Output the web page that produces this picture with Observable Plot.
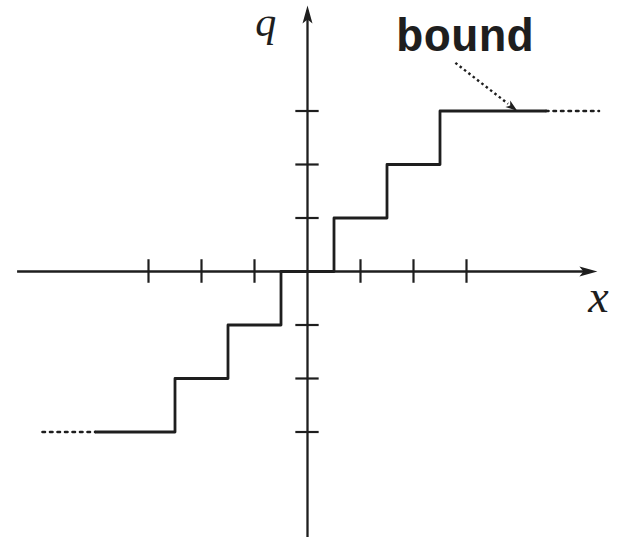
<!DOCTYPE html>
<html>
<head>
<meta charset="utf-8">
<script src="https://cdn.jsdelivr.net/npm/d3@7"></script>
<script src="https://cdn.jsdelivr.net/npm/@observablehq/plot@0.6"></script>
<style>
  html, body { margin: 0; padding: 0; background: #fff; }
</style>
</head>
<body>
<div id="chart"></div>
<script>
// Quantizer staircase data
const stairX = [-4, -2.5, -1.5, -0.5, 0.5, 1.5, 2.5, 4.5];
const stairQ = [-3, -2, -1, 0, 1, 2, 3, 3];
// dotted continuation beyond the bound
const leftDotX = [-5, -4];
const leftDotQ = [-3, -3];
const rightDotX = [4.5, 5.5];
const rightDotQ = [3, 3];
// axis ticks
const xTicks = [-3, -2, -1, 1, 2, 3];
const yTicks = [-3, -2, -1, 1, 2, 3];
// axis extents
const xAxisExtent = [-5.47, 5.47];
const yAxisExtent = [-5, 4.97];
// annotation
const boundLabel = "bound";
const boundText = {x: 2.97, y: 4.12};
const boundFrom = {x: 2.79, y: 3.9};
const boundTo = {x: 3.96, y: 3.0};

const stair = stairX.map((x, i) => ({x, q: stairQ[i]}));
const leftDots = leftDotX.map((x, i) => ({x, q: leftDotQ[i]}));
const rightDots = rightDotX.map((x, i) => ({x, q: rightDotQ[i]}));

// narrow dart-shaped arrowhead, tip at origin, pointing up
const dart = {
  draw(ctx) {
    ctx.moveTo(0, 0);
    ctx.lineTo(5, 18);
    ctx.lineTo(0, 14);
    ctx.lineTo(-5, 18);
    ctx.closePath();
  }
};
const smallDart = {
  draw(ctx) {
    ctx.moveTo(0, 0);
    ctx.lineTo(4, 12);
    ctx.lineTo(0, 9);
    ctx.lineTo(-4, 12);
    ctx.closePath();
  }
};

const ink = "#1e1e1e";

const chart = Plot.plot({
  width: 619,
  height: 537,
  margin: 0,
  style: {background: "#fff", overflow: "visible"},
  x: {domain: [-5, 5], range: [42, 572], axis: null},
  y: {domain: [-5, 5], range: [538.5, 3.5], axis: null},
  marks: [
    // axes
    Plot.ruleY([0], {x1: xAxisExtent[0], x2: xAxisExtent[1] - 0.1, stroke: ink, strokeWidth: 2.3}),
    Plot.ruleX([0], {y1: yAxisExtent[0], y2: yAxisExtent[1] - 0.1, stroke: ink, strokeWidth: 2.3}),
    Plot.dot([{x: xAxisExtent[1], y: 0}], {x: "x", y: "y", symbol: dart, rotate: 90, fill: ink, stroke: "none"}),
    Plot.dot([{x: 0, y: yAxisExtent[1]}], {x: "x", y: "y", symbol: dart, rotate: 0, fill: ink, stroke: "none"}),
    // ticks
    Plot.ruleX(xTicks, {x: d => d, y1: -0.22, y2: 0.22, stroke: ink, strokeWidth: 2.2}),
    Plot.ruleY(yTicks, {y: d => d, x1: -0.22, x2: 0.22, stroke: ink, strokeWidth: 2.2}),
    // staircase
    Plot.line(stair, {x: "x", y: "q", curve: "step-after", stroke: ink, strokeWidth: 2.8}),
    Plot.line(leftDots, {x: "x", y: "q", stroke: ink, strokeWidth: 2.6, strokeDasharray: "2.5,5"}),
    Plot.line(rightDots, {x: "x", y: "q", stroke: ink, strokeWidth: 2.6, strokeDasharray: "2.5,5"}),
    // bound annotation
    Plot.link([0], {
      x1: () => boundFrom.x, y1: () => boundFrom.y,
      x2: () => boundFrom.x + (boundTo.x - boundFrom.x) * 0.85,
      y2: () => boundFrom.y + (boundTo.y - boundFrom.y) * 0.85,
      stroke: ink, strokeWidth: 2.4, strokeDasharray: "2.5,3"
    }),
    Plot.dot([boundTo], {x: "x", y: "y", symbol: smallDart, rotate: 127, fill: ink, stroke: "none"}),
    Plot.text([boundText], {x: "x", y: "y", text: () => boundLabel, lineAnchor: "bottom", textAnchor: "middle",
      fontFamily: "'Liberation Mono', 'DejaVu Sans Mono', 'Courier New', monospace", fontWeight: "bold", fontSize: 46, fill: ink}),
    // axis labels
    Plot.text([{x: -0.79, y: 4.4}], {x: "x", y: "y", text: () => "q", lineAnchor: "bottom", textAnchor: "middle",
      fontFamily: "'Liberation Serif', 'DejaVu Serif', serif", fontStyle: "italic", fontSize: 42, fill: ink}),
    Plot.text([{x: 5.49, y: -0.76}], {x: "x", y: "y", text: () => "x", lineAnchor: "bottom", textAnchor: "middle",
      fontFamily: "'Liberation Serif', 'DejaVu Serif', serif", fontStyle: "italic", fontSize: 46, fill: ink})
  ]
});
document.getElementById("chart").appendChild(chart);
</script>
</body>
</html>
